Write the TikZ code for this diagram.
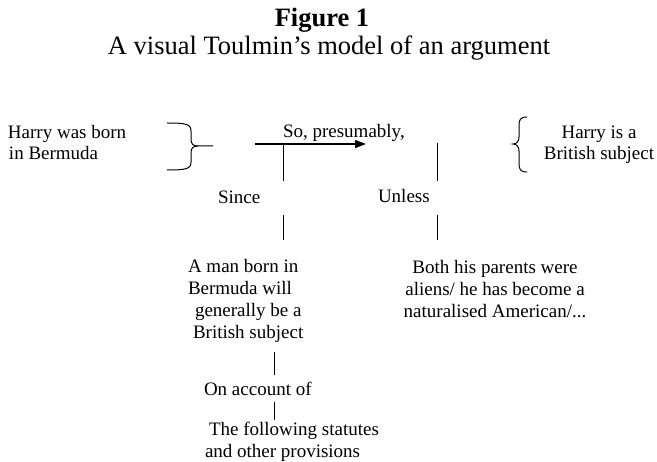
\documentclass[tikz,border=0pt]{standalone}
\usepackage{fontspec}
\setmainfont{Liberation Serif}
\usetikzlibrary{arrows.meta}
\begin{document}
\begin{tikzpicture}[x=1pt,y=-1pt,
  txt/.style={inner sep=0pt,outer sep=0pt,font=\fontsize{19}{21.8}\selectfont},
  ttl/.style={inner sep=0pt,outer sep=0pt,font=\fontsize{26.5}{30}\selectfont},
  rule/.style={line width=1pt},
  brace/.style={line width=1pt},
  arr/.style={line width=1.5pt,-{Triangle[length=11pt,width=8pt]}}]
\useasboundingbox (0,0) rectangle (657,462);
% title
\node[ttl,font=\fontsize{26.5}{30}\selectfont\bfseries,anchor=base] (fig) at (322,27) {Figure 1};
\node[ttl,anchor=base] (sub) at (329,55) {A visual Toulmin’s model of an argument};
% datum and claim (anchor base = baseline of last line)
\node[txt,anchor=base west,align=left] (datum) at (8,160) {Harry was born\\\hspace*{1pt}in Bermuda};
\node[txt,anchor=base,align=center] (claim) at (599,160) {Harry is a\\British subject};
% braces
\draw[brace] (167,123) .. controls (186,123) and (191,124) .. (191,131) -- (191,139)
  .. controls (191,144) and (193,146) .. (198,146) -- (213,146);
\draw[brace] (167,170) .. controls (186,170) and (191,169) .. (191,162) -- (191,153)
  .. controls (191,148) and (193,146) .. (198,146);
\draw[brace] (527,117) .. controls (520,117) and (519,120) .. (519,126) -- (519,137)
  .. controls (519,141) and (517,144) .. (513,144)
  .. controls (517,144) and (519,147) .. (519,151) -- (519,163)
  .. controls (519,169) and (520,172) .. (527,172);
% arrow and qualifier
\coordinate (as) at (255,144);
\coordinate (ae) at (366,144);
\draw[arr] (as) -- (ae);
\node[txt,anchor=base west] (qual) at (283,138) {So, presumably,};
\coordinate (w1) at (283,144);
\coordinate (w2) at (283,181);
\draw[rule] (w1) -- (w2);
\coordinate (r1) at (437,143);
\coordinate (r2) at (437,181);
\draw[rule] (r1) -- (r2);
% since / unless
\node[txt,anchor=base west] (since) at (218,204) {Since};
\node[txt,anchor=base west] (unless) at (378,203) {Unless};
\coordinate (w3) at (283,215);
\coordinate (w4) at (283,240);
\draw[rule] (w3) -- (w4);
\coordinate (r3) at (437,215);
\coordinate (r4) at (437,240);
\draw[rule] (r3) -- (r4);
% warrant and rebuttal
\node[txt,anchor=base west,align=left] (warrant) at (188,338.4)
  {A man born in\\Bermuda will\\\hspace*{7pt}generally be a\\\hspace*{5pt}British subject};
\node[txt,anchor=base,align=center] (rebut) at (495,317.6)
  {Both his parents were\\aliens/ he has become a\\naturalised American/...};
% backing
\coordinate (b1) at (274,352);
\coordinate (b2) at (274,375);
\draw[rule] (b1) -- (b2);
\node[txt,anchor=base west] (onacc) at (204,396) {On account of};
\coordinate (b3) at (274,402);
\coordinate (b4) at (274,420);
\draw[rule] (b3) -- (b4);
\node[txt,anchor=base west,align=left] (backing) at (205,457.8)
  {\hspace*{4pt}The following statutes\\and other provisions};
\end{tikzpicture}
\end{document}
